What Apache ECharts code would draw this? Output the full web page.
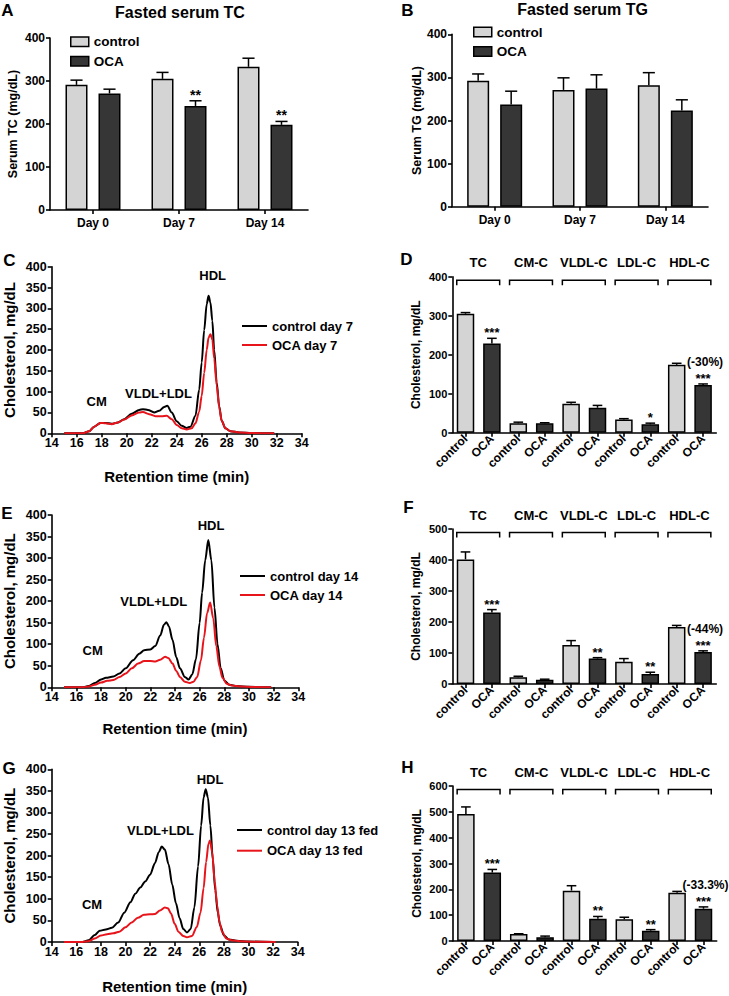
<!DOCTYPE html>
<html><head><meta charset="utf-8">
<script src="https://cdn.jsdelivr.net/npm/echarts@6/dist/echarts.min.js"></script>
<style>html,body{margin:0;padding:0;background:#fff}#c{width:729px;height:996px}</style>
</head><body><div id="c"></div>
<script>
// ---------------- DATA ----------------
// Panels A / B : fasted serum TC and TG
const dayLabels = ['Day 0', 'Day 7', 'Day 14'];
const tcControl = [291, 305, 333];
const tcControlErr = [11, 15, 20];
const tcOCA = [271, 242, 198];
const tcOCAErr = [10, 12, 8];
const tcOCAStars = ['', '**', '**'];
const tgControl = [292, 271, 282];
const tgControlErr = [16, 28, 29];
const tgOCA = [237, 274, 223];
const tgOCAErr = [31, 32, 25];

// Panels C / E / G : FPLC cholesterol profiles [retention time (min), mg/dL]
const ctrlDay7 = [[15,0],[16.5,0],[17,5],[17.4,16],[17.9,25],[18.3,25],[18.8,23],[19.3,26],[19.8,34],[20.4,47],[21,56],[21.3,58],[21.7,56],[22.2,50],[22.6,54],[23,63],[23.25,66],[23.6,50],[24,29],[24.4,18],[24.8,13],[25.1,16],[25.5,42],[25.8,105],[26,170],[26.2,248],[26.4,310],[26.55,330],[26.7,314],[26.85,270],[27,200],[27.2,122],[27.4,65],[27.6,30],[27.9,12],[28.3,5],[29,2],[30,0.5],[31.8,0]];
const ocaDay7 = [[15,0],[16.5,0],[17,5],[17.4,16],[17.9,25],[18.3,24],[18.8,22],[19.3,26],[19.8,33],[20.4,43],[21,50],[21.3,51],[21.8,46],[22.3,41],[22.8,41],[23.2,42],[23.6,34],[24,20],[24.4,12],[24.8,9],[25.2,12],[25.5,24],[25.8,52],[26,90],[26.2,145],[26.4,200],[26.55,230],[26.7,238],[26.85,225],[27,180],[27.2,115],[27.4,62],[27.6,30],[27.9,12],[28.3,5],[29,2],[30,0.5],[31.8,0]];
const ctrlDay14 = [[15,0],[16.5,0],[17,3],[17.5,10],[18,18],[18.4,22],[19,25],[19.5,32],[20,44],[20.6,63],[21.1,78],[21.5,86],[22,88],[22.4,96],[22.8,120],[23.1,145],[23.3,151],[23.5,142],[23.8,110],[24.1,70],[24.4,44],[24.8,24],[25.1,18],[25.4,30],[25.7,65],[26,150],[26.2,220],[26.45,295],[26.7,342],[26.95,295],[27.2,185],[27.45,100],[27.7,45],[28,16],[28.4,6],[29,3],[30,1],[31.8,0]];
const ocaDay14 = [[15,0],[16.5,0],[17,2],[17.5,6],[18,11],[18.5,15],[19,17],[19.5,24],[20,32],[20.5,44],[21,55],[21.5,61],[22,61],[22.4,60],[22.8,64],[23.2,71],[23.45,68],[23.8,55],[24.1,38],[24.4,24],[24.8,13],[25.2,10],[25.5,13],[25.8,24],[26.1,62],[26.35,115],[26.6,172],[26.85,197],[27.1,160],[27.35,95],[27.6,48],[27.85,22],[28.2,8],[28.6,4],[29.3,2],[30.3,0.5],[31.8,0]];
const ctrlDay13Fed = [[15,0],[16.5,0],[17,4],[17.5,16],[17.9,26],[18.4,29],[18.9,33],[19.4,45],[19.9,68],[20.4,92],[20.8,112],[21.2,126],[21.6,140],[22,156],[22.4,183],[22.7,208],[22.95,221],[23.2,214],[23.5,180],[23.8,133],[24.1,90],[24.4,55],[24.7,30],[25,22],[25.3,30],[25.6,80],[25.9,175],[26.15,270],[26.35,335],[26.52,354],[26.7,335],[26.9,270],[27.1,190],[27.3,120],[27.5,68],[27.7,38],[28,15],[28.4,6],[29,3],[30,1],[32,0]];
const ocaDay13Fed = [[15,0],[16.5,0],[17,2],[17.5,8],[18,15],[18.5,18],[19,20],[19.5,24],[20,34],[20.5,45],[21,56],[21.5,63],[22,64],[22.4,65],[22.8,73],[23.2,80],[23.45,78],[23.7,66],[24,42],[24.3,24],[24.7,14],[25,11],[25.4,14],[25.8,35],[26.1,68],[26.35,125],[26.55,185],[26.75,228],[26.87,235],[27.05,208],[27.25,140],[27.45,85],[27.65,45],[27.85,24],[28.2,8],[28.6,4],[29.3,2],[30.3,0.5],[32.2,0]];

// Panels D / F / H : lipoprotein cholesterol fractions
const fractions = ['TC', 'CM-C', 'VLDL-C', 'LDL-C', 'HDL-C'];
const groupNames = ['control', 'OCA'];
const d7Control = [305, 24, 74, 34, 174];
const d7ControlErr = [3, 3, 4, 2, 4];
const d7OCA = [229, 24, 64, 21.5, 122];
const d7OCAErr = [13, 1.5, 6, 3, 3];
const d7Stars = ['***', '', '', '*', '***'];
const d7Change = ['', '', '', '', '(-30%)'];
const d14Control = [402, 21.5, 126, 72, 184];
const d14ControlErr = [24, 3.5, 14, 10, 5];
const d14OCA = [231, 14, 82, 32, 103];
const d14OCAErr = [9, 1.5, 3, 6, 4];
const d14Stars = ['***', '', '**', '**', '***'];
const d14Change = ['', '', '', '', '(-44%)'];
const d13Control = [492, 27, 195, 84, 187];
const d13ControlErr = [27, 1, 19, 8, 5];
const d13OCA = [265, 15, 86, 40, 125];
const d13OCAErr = [12, 4, 9, 4, 7];
const d13Stars = ['***', '', '**', '**', '***'];
const d13Change = ['', '', '', '', '(-33.3%)'];

// ---------------- STYLE HELPERS ----------------
const FONT = '"Liberation Sans", Arial, Helvetica, sans-serif';
const LIGHT = '#d4d4d4', DARK = '#363636', RED = '#e8141b';
const AX = {color: '#000', width: 1.6};

function valueAxis(gi, min, max, interval, fs, name, nameGap, nameFs, margin) {
  return {
    type: 'value', gridIndex: gi, min: min, max: max, interval: interval,
    axisLine: {show: true, lineStyle: AX},
    axisTick: {show: true, length: 4, lineStyle: AX},
    axisLabel: {color: '#000', fontWeight: 'bold', fontFamily: FONT, fontSize: fs, margin: margin},
    splitLine: {show: false},
    name: name, nameLocation: 'middle', nameGap: nameGap,
    nameTextStyle: {color: '#000', fontWeight: 'bold', fontFamily: FONT, fontSize: nameFs}
  };
}
function catAxis(gi, data, fs, rotate, margin) {
  return {
    type: 'category', gridIndex: gi, data: data,
    axisLine: {show: true, lineStyle: AX},
    axisTick: {show: true, alignWithLabel: true, length: 4, lineStyle: AX},
    axisLabel: {color: '#000', fontWeight: 'bold', fontFamily: FONT, fontSize: fs, rotate: rotate, margin: margin, interval: 0},
    splitLine: {show: false}
  };
}
function txt(text, x, y, fs, align, vAlign) {
  return {type: 'text', x: x, y: y, style: {text: text, fill: '#000', font: 'bold ' + fs + 'px ' + FONT,
    textAlign: align || 'center', textVerticalAlign: vAlign || 'middle', align: align || 'center', verticalAlign: vAlign || 'middle'}};
}

// error bars (+ optional stars / % change) drawn through the axes
function errSeries(gi, vals, errs, xIndexOf, offset, bw, stars, notes, starFs) {
  return {
    type: 'custom', xAxisIndex: gi, yAxisIndex: gi, silent: true, z: 5,
    data: vals.map(function (v, i) { return [xIndexOf(i), v, errs[i]]; }),
    renderItem: function (params, api) {
      const i = params.dataIndex;
      const x = api.value(0), v = api.value(1), e = api.value(2);
      const p0 = api.coord([x, v]), p1 = api.coord([x, v + e]);
      const cx = p0[0] + offset, cap = bw * 0.55;
      const ch = [
        {type: 'line', shape: {x1: cx, y1: p0[1], x2: cx, y2: p1[1]}, style: {stroke: '#000', lineWidth: 1.5}},
        {type: 'line', shape: {x1: cx - cap / 2, y1: p1[1], x2: cx + cap / 2, y2: p1[1]}, style: {stroke: '#000', lineWidth: 1.5}}
      ];
      if (stars && stars[i]) ch.push(txt(stars[i], cx, p1[1] + 1, starFs, 'center', 'bottom'));
      if (notes && notes[i]) ch.push(txt(notes[i], cx + 2, p1[1] - 22, 12, 'center', 'middle'));
      return {type: 'group', children: ch};
    }
  };
}
// brackets + fraction names above D/F/H
function bracketSeries(gi, yMax, bw) {
  return {
    type: 'custom', xAxisIndex: gi, yAxisIndex: gi, silent: true, clip: false,
    data: fractions.map(function (f, i) { return [2 * i, yMax]; }),
    renderItem: function (params, api) {
      const i = params.dataIndex;
      const a = api.coord([2 * i, yMax]), b = api.coord([2 * i + 1, yMax]);
      const x1 = a[0] - bw / 2, x2 = b[0] + bw / 2 - 1, y = a[1] + 3.5;
      return {type: 'group', children: [
        {type: 'polyline', shape: {points: [[x1, y + 5], [x1, y], [x2, y], [x2, y + 5]]}, style: {stroke: '#000', lineWidth: 1.5, fill: 'none'}},
        txt(fractions[i], (x1 + x2) / 2, a[1] - 14, 13, 'center', 'middle')
      ]};
    }
  };
}
function interleave(ctrl, oca, which) {
  const out = [];
  for (let i = 0; i < ctrl.length; i++) {
    out.push(which === 0 ? ctrl[i] : '-');
    out.push(which === 1 ? oca[i] : '-');
  }
  return out;
}
const fracCats = [];
fractions.forEach(function () { fracCats.push(groupNames[0], groupNames[1]); });

// ---------------- LAYOUT ----------------
const grids = [
  {left: 50, top: 38, width: 258, height: 172},        // A
  {left: 452, top: 34.3, width: 256, height: 172.4},   // B
  {left: 51.7, top: 266.7, width: 250, height: 166.6}, // C
  {left: 452.3, top: 276.7, width: 264, height: 156},  // D
  {left: 51.7, top: 515, width: 246.6, height: 172.3}, // E
  {left: 452.3, top: 529, width: 264, height: 155},    // F
  {left: 51.7, top: 769.3, width: 246, height: 172.7}, // G
  {left: 452.7, top: 786, width: 264, height: 155}     // H
];

const xAxes = [
  catAxis(0, dayLabels, 12, 0, 7),
  catAxis(1, dayLabels, 12, 0, 7),
  valueAxis(2, 14, 34, 2, 12.5, 'Retention time (min)', 36, 15, 3),
  catAxis(3, fracCats, 12, 45, 4),
  valueAxis(4, 14, 34, 2, 12.5, 'Retention time (min)', 34, 15, 3),
  catAxis(5, fracCats, 12, 45, 4),
  valueAxis(6, 14, 34, 2, 12.5, 'Retention time (min)', 37, 15, 3),
  catAxis(7, fracCats, 12, 45, 4)
];
const yAxes = [
  valueAxis(0, 0, 400, 100, 12, 'Serum TC (mg/dL)', 31, 12.5, 5),
  valueAxis(1, 0, 400, 100, 12, 'Serum TG (mg/dL)', 29, 12.5, 5),
  valueAxis(2, 0, 400, 50, 12.5, 'Cholesterol, mg/dL', 35, 15, 5),
  valueAxis(3, 0, 400, 100, 11, 'Cholesterol, mg/dL', 30, 12, 5),
  valueAxis(4, 0, 400, 50, 12.5, 'Cholesterol, mg/dL', 35, 15, 5),
  valueAxis(5, 0, 500, 100, 11, 'Cholesterol, mg/dL', 30, 12, 5),
  valueAxis(6, 0, 400, 50, 12.5, 'Cholesterol, mg/dL', 35, 15, 5),
  valueAxis(7, 0, 600, 100, 11, 'Cholesterol, mg/dL', 30, 12, 5)
];

const BW1 = 22, BW2 = 17.5;
const barStyle = function (c) { return {color: c, borderColor: '#000', borderWidth: 1.5}; };
const series = [];
// A and B
[[0, tcControl, tcControlErr, tcOCA, tcOCAErr, tcOCAStars], [1, tgControl, tgControlErr, tgOCA, tgOCAErr, null]].forEach(function (p) {
  const gi = p[0];
  series.push({type: 'bar', name: 'control', xAxisIndex: gi, yAxisIndex: gi, data: p[1], barWidth: BW1, barGap: '50%', itemStyle: barStyle(LIGHT)});
  series.push({type: 'bar', name: 'OCA', xAxisIndex: gi, yAxisIndex: gi, data: p[3], barWidth: BW1, barGap: '50%', itemStyle: barStyle(DARK)});
  const off = (BW1 + BW1 * 0.5) / 2;
  series.push(errSeries(gi, p[1], p[2], function (i) { return i; }, -off, BW1, null, null, 14));
  series.push(errSeries(gi, p[3], p[4], function (i) { return i; }, off, BW1, p[5], null, 14));
});
// C, E, G
[[2, 'control day 7', ctrlDay7, 'OCA day 7', ocaDay7], [4, 'control day 14', ctrlDay14, 'OCA day 14', ocaDay14], [6, 'control day 13 fed', ctrlDay13Fed, 'OCA day 13 fed', ocaDay13Fed]].forEach(function (p) {
  const gi = p[0];
  series.push({type: 'line', name: p[1], xAxisIndex: gi, yAxisIndex: gi, data: p[2], smooth: 0.3, smoothMonotone: 'x', symbol: 'none', lineStyle: {color: '#000', width: 2}, itemStyle: {color: '#000'}});
  series.push({type: 'line', name: p[3], xAxisIndex: gi, yAxisIndex: gi, data: p[4], smooth: 0.3, smoothMonotone: 'x', symbol: 'none', lineStyle: {color: RED, width: 2}, itemStyle: {color: RED}});
});
// D, F, H
[[3, 400, d7Control, d7ControlErr, d7OCA, d7OCAErr, d7Stars, d7Change],
 [5, 500, d14Control, d14ControlErr, d14OCA, d14OCAErr, d14Stars, d14Change],
 [7, 600, d13Control, d13ControlErr, d13OCA, d13OCAErr, d13Stars, d13Change]].forEach(function (p) {
  const gi = p[0];
  series.push({type: 'bar', name: 'frac control ' + gi, xAxisIndex: gi, yAxisIndex: gi, data: interleave(p[2], p[4], 0), barWidth: BW2, barGap: '-100%', itemStyle: barStyle(LIGHT)});
  series.push({type: 'bar', name: 'frac OCA ' + gi, xAxisIndex: gi, yAxisIndex: gi, data: interleave(p[2], p[4], 1), barWidth: BW2, barGap: '-100%', itemStyle: barStyle(DARK)});
  series.push(errSeries(gi, p[2], p[3], function (i) { return 2 * i; }, 0, BW2, null, null, 13));
  series.push(errSeries(gi, p[4], p[5], function (i) { return 2 * i + 1; }, 0, BW2, p[6], p[7], 13));
  series.push(bracketSeries(gi, p[1], BW2));
});

const legText = {color: '#000', fontWeight: 'bold', fontFamily: FONT, fontSize: 13.5, lineHeight: 15};
const barLegend = function (left, top) {
  return {data: ['control', 'OCA'], orient: 'vertical', left: left, top: top, padding: 0, itemGap: 4.6, itemWidth: 18, itemHeight: 9.5,
    icon: 'rect', selectedMode: false, itemStyle: {borderColor: '#000', borderWidth: 1.5}, textStyle: legText};
};
const lineLegend = function (names, left, top, gap) {
  return {data: names, orient: 'vertical', left: left, top: top, padding: 0, itemGap: gap, itemWidth: 25, itemHeight: 2,
    icon: 'rect', selectedMode: false, itemStyle: {borderWidth: 0}, textStyle: Object.assign({}, legText, {fontSize: 13})};
};

const graphics = [
  txt('A', 7.5, 10, 17), txt('B', 407.5, 10, 17), txt('C', 9.5, 260, 17), txt('D', 406.5, 259, 17),
  txt('E', 7, 513, 17), txt('F', 408.5, 507, 17), txt('G', 9, 768, 17), txt('H', 407.5, 767.5, 17),
  txt('Fasted serum TC', 180, 12, 16), txt('Fasted serum TG', 582.5, 9, 16),
  txt('CM', 96.7, 401.7, 13), txt('VLDL+LDL', 158.5, 393.7, 13), txt('HDL', 212.7, 275.7, 13),
  txt('CM', 92.7, 650, 13), txt('VLDL+LDL', 153.7, 601.3, 13), txt('HDL', 211, 525.3, 13),
  txt('CM', 92, 904.3, 13), txt('VLDL+LDL', 160.5, 830, 13), txt('HDL', 210, 779.3, 13)
];

const option = {
  animation: false,
  backgroundColor: '#fff',
  textStyle: {fontFamily: FONT},
  grid: grids,
  xAxis: xAxes,
  yAxis: yAxes,
  legend: [
    barLegend(70, 34.2), barLegend(473, 24.5),
    lineLegend(['control day 7', 'OCA day 7'], 242, 318.5, 4),
    lineLegend(['control day 14', 'OCA day 14'], 240, 568.5, 4),
    lineLegend(['control day 13 fed', 'OCA day 13 fed'], 237, 822.5, 5.7)
  ],
  graphic: graphics,
  series: series
};
const chart = echarts.init(document.getElementById('c'), null, {renderer: 'svg', width: 729, height: 996});
chart.setOption(option);
</script>
</body></html>
